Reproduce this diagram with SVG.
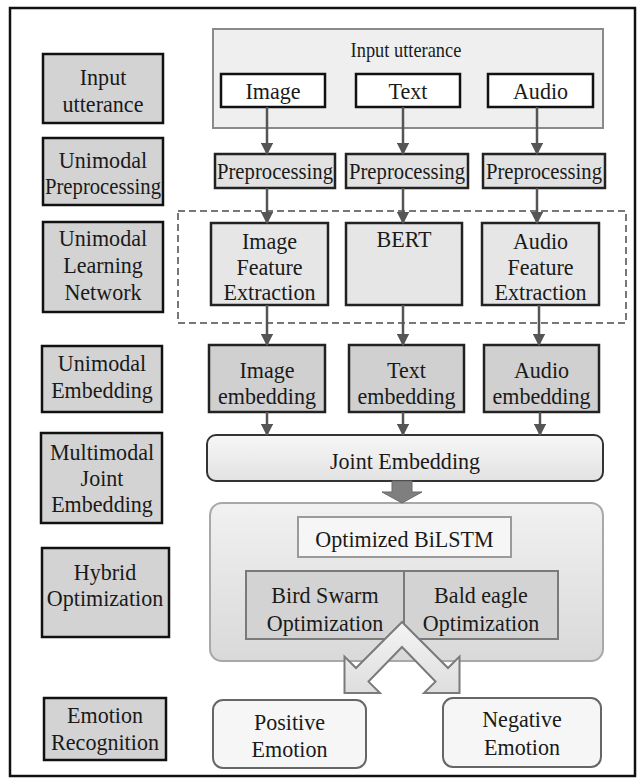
<svg xmlns="http://www.w3.org/2000/svg" width="644" height="783" viewBox="0 0 644 783" font-family="'Liberation Serif', 'DejaVu Serif', serif">
<defs>
<style>
text{font-family:'Liberation Serif','DejaVu Serif',serif;fill:#1a1a1a;text-anchor:middle;transform-box:fill-box;transform-origin:center;transform:scaleX(0.92)}
.t24{font-size:24px}.t22{font-size:22.5px}.t20{font-size:20px}
.lab{fill:#d3d3d3;stroke:#111;stroke-width:2.5}
.inp{fill:#fff;stroke:#111;stroke-width:2.5}
.pre{fill:#e2e2e2;stroke:#222;stroke-width:2.5}
.lrn{fill:#e6e6e6;stroke:#222;stroke-width:2.5}
.emb{fill:#d0d0d0;stroke:#222;stroke-width:2.5}
.opt{fill:#d3d3d3;stroke:#7a7a7a;stroke-width:2}
.res{fill:#f6f6f6;stroke:#666;stroke-width:2}
.conn line{stroke:#555;stroke-width:2.5}
</style>
<marker id="ah" viewBox="0 0 10 10" refX="9" refY="5" markerWidth="5" markerHeight="5" markerUnits="strokeWidth" orient="auto">
<path d="M0,0 L10,5 L0,10 z" fill="#555"/>
</marker>
<linearGradient id="gj" x1="0" y1="0" x2="0" y2="1"><stop offset="0" stop-color="#f7f7f7"/><stop offset="1" stop-color="#e2e2e2"/></linearGradient>
<linearGradient id="gc" x1="0" y1="0" x2="0" y2="1"><stop offset="0" stop-color="#f1f1f1"/><stop offset="1" stop-color="#d9d9d9"/></linearGradient>
<linearGradient id="gv" x1="0" y1="0" x2="0" y2="1"><stop offset="0" stop-color="#f4f4f4"/><stop offset="1" stop-color="#dedede"/></linearGradient>
</defs>
<rect x="10" y="8" width="625" height="768" fill="#fff" stroke="#111" stroke-width="2.5"/>

<g id="label-input"><rect class="lab" x="43" y="54" width="120" height="69"/><text class="t24" x="103" y="85">Input</text><text class="t24" x="103" y="112">utterance</text></g>
<g id="label-preprocessing"><rect class="lab" x="43" y="138" width="120" height="67"/><text class="t24" x="103" y="168">Unimodal</text><text class="t22" x="103" y="194">Preprocessing</text></g>
<g id="label-learning"><rect class="lab" x="43" y="222" width="120" height="90"/><text class="t24" x="103" y="246">Unimodal</text><text class="t24" x="103" y="273">Learning</text><text class="t24" x="103" y="300">Network</text></g>
<g id="label-embedding"><rect class="lab" x="42" y="346" width="120" height="66"/><text class="t24" x="102" y="371">Unimodal</text><text class="t24" x="102" y="398">Embedding</text></g>
<g id="label-joint"><rect class="lab" x="41" y="433" width="121" height="90"/><text class="t24" x="102" y="460">Multimodal</text><text class="t24" x="102" y="486">Joint</text><text class="t24" x="102" y="512">Embedding</text></g>
<g id="label-hybrid"><rect class="lab" x="42" y="548" width="127" height="89"/><text class="t24" x="105" y="580">Hybrid</text><text class="t24" x="105" y="606">Optimization</text></g>
<g id="label-emotion"><rect class="lab" x="44" y="698" width="122" height="62"/><text class="t24" x="105" y="723">Emotion</text><text class="t24" x="105" y="750">Recognition</text></g>

<g id="input-utterance"><rect x="213" y="29" width="390" height="99" fill="#efefef" stroke="#8a8a8a" stroke-width="2"/><text class="t20" x="406" y="57">Input utterance</text></g>
<g id="image"><rect class="inp" x="221" y="74" width="104" height="33"/><text class="t24" x="273" y="99">Image</text></g>
<g id="text"><rect class="inp" x="356" y="74" width="104" height="33"/><text class="t24" x="408" y="99">Text</text></g>
<g id="audio"><rect class="inp" x="488" y="74" width="105" height="33"/><text class="t24" x="540.5" y="99">Audio</text></g>

<g id="pre-image"><rect class="pre" x="215" y="154" width="120" height="34"/><text class="t22" x="275" y="179">Preprocessing</text></g>
<g id="pre-text"><rect class="pre" x="346" y="154" width="122" height="34"/><text class="t22" x="407" y="179">Preprocessing</text></g>
<g id="pre-audio"><rect class="pre" x="483" y="154" width="122" height="34"/><text class="t22" x="544" y="179">Preprocessing</text></g>

<rect id="learning-group" x="178" y="211" width="448" height="112" fill="none" stroke="#777" stroke-width="2" stroke-dasharray="7,4"/>
<g id="image-feature"><rect class="lrn" x="211" y="223" width="117" height="82"/><text class="t24" x="269.5" y="249">Image</text><text class="t24" x="269.5" y="275">Feature</text><text class="t24" x="269.5" y="300">Extraction</text></g>
<g id="bert"><rect class="lrn" x="346" y="223" width="116" height="82"/><text class="t24" x="404" y="247">BERT</text></g>
<g id="audio-feature"><rect class="lrn" x="482" y="223" width="117" height="82"/><text class="t24" x="540.5" y="249">Audio</text><text class="t24" x="540.5" y="275">Feature</text><text class="t24" x="540.5" y="300">Extraction</text></g>

<g id="image-embedding"><rect class="emb" x="209" y="345" width="116" height="67"/><text class="t24" x="267" y="378">Image</text><text class="t24" x="267" y="404">embedding</text></g>
<g id="text-embedding"><rect class="emb" x="349" y="345" width="115" height="67"/><text class="t24" x="406.5" y="378">Text</text><text class="t24" x="406.5" y="404">embedding</text></g>
<g id="audio-embedding"><rect class="emb" x="484" y="345" width="115" height="67"/><text class="t24" x="541.5" y="378">Audio</text><text class="t24" x="541.5" y="404">embedding</text></g>

<g id="joint-embedding"><rect x="207" y="435" width="396" height="46" rx="9" fill="url(#gj)" stroke="#333" stroke-width="2"/><text class="t24" x="405" y="469">Joint Embedding</text></g>

<g id="hybrid-container"><rect x="210" y="503" width="393" height="158" rx="12" fill="url(#gc)" stroke="#a8a8a8" stroke-width="2"/></g>
<g id="bilstm"><rect x="298" y="517" width="213" height="40" fill="#f6f6f6" stroke="#9a9a9a" stroke-width="2"/><text class="t24" x="404.5" y="547">Optimized BiLSTM</text></g>
<g id="bird-swarm"><rect class="opt" x="246" y="571" width="158" height="68"/><text class="t24" x="325" y="603">Bird Swarm</text><text class="t24" x="325" y="631">Optimization</text></g>
<g id="bald-eagle"><rect class="opt" x="404" y="571" width="154" height="68"/><text class="t24" x="481" y="603">Bald eagle</text><text class="t24" x="481" y="631">Optimization</text></g>

<g id="positive"><rect class="res" x="213" y="700" width="153" height="68" rx="10"/><text class="t24" x="289.5" y="730">Positive</text><text class="t24" x="289.5" y="757">Emotion</text></g>
<g id="negative"><rect class="res" x="443" y="698" width="158" height="69" rx="10"/><text class="t24" x="522" y="727">Negative</text><text class="t24" x="522" y="755">Emotion</text></g>

<g id="connectors" class="conn">
<line x1="267" y1="107" x2="267" y2="154" marker-end="url(#ah)"/>
<line x1="403" y1="107" x2="403" y2="154" marker-end="url(#ah)"/>
<line x1="537" y1="107" x2="537" y2="154" marker-end="url(#ah)"/>
<line x1="267" y1="188" x2="267" y2="223" marker-end="url(#ah)"/>
<line x1="403" y1="188" x2="403" y2="223" marker-end="url(#ah)"/>
<line x1="537" y1="188" x2="537" y2="223" marker-end="url(#ah)"/>
<line x1="267" y1="305" x2="267" y2="345" marker-end="url(#ah)"/>
<line x1="403" y1="305" x2="403" y2="345" marker-end="url(#ah)"/>
<line x1="539" y1="305" x2="539" y2="345" marker-end="url(#ah)"/>
<line x1="267" y1="412" x2="267" y2="435" marker-end="url(#ah)"/>
<line x1="403" y1="412" x2="403" y2="435" marker-end="url(#ah)"/>
<line x1="540" y1="412" x2="540" y2="435" marker-end="url(#ah)"/>
<path d="M392,481 H412 V492 H422 L402,503 L382,492 H392 Z" fill="#7f7f7f" stroke="#6a6a6a" stroke-width="1"/>
<path d="M402,622 L356,668 L344.5,656.6 L344.5,693 L380,693 L368.5,681.6 L402,647 L435.5,681.6 L424,693 L459.5,693 L459.5,656.6 L448,668 Z" fill="url(#gv)" stroke="#7a7a7a" stroke-width="2" stroke-linejoin="miter"/>
</g>
</svg>
